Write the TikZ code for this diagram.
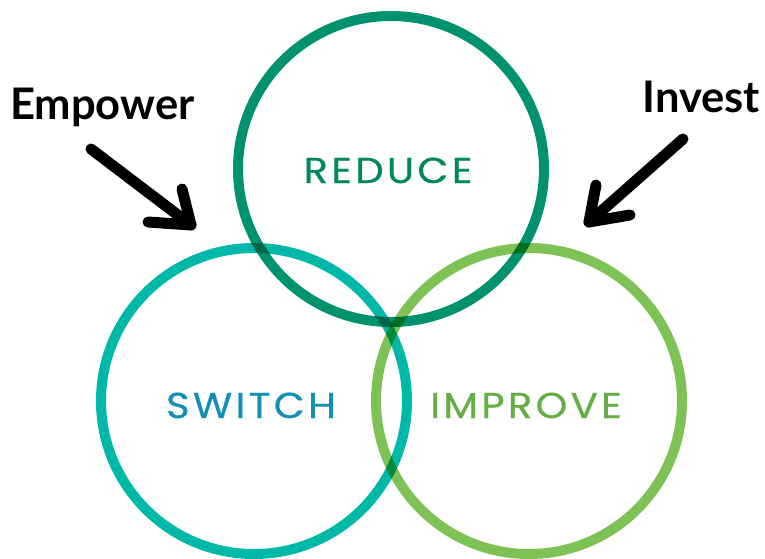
\documentclass[tikz,border=0pt]{standalone}
\usepackage{fontspec}
\setmainfont{Lato}
\newfontfamily\ringfont[LetterSpace=9,FakeStretch=1.12,FakeBold=0.5]{Poppins}
\definecolor{topc}{RGB}{0,145,110}
\definecolor{leftc}{RGB}{0,184,168}
\definecolor{rightc}{RGB}{126,194,85}
\definecolor{reducet}{RGB}{0,135,95}
\definecolor{switcht}{RGB}{17,143,180}
\definecolor{improvet}{RGB}{100,174,69}
\begin{document}
\begin{tikzpicture}[x=1pt,y=-1pt,
  ring/.style={circle,minimum size=306pt,inner sep=0pt,line width=10pt},
  ringlabel/.style={font=\ringfont\fontsize{36}{36}\selectfont,inner sep=0pt,anchor=base},
  sidelabel/.style={font=\bfseries\fontsize{43.5}{43.5}\selectfont,inner sep=0pt,anchor=base west},
  pointer/.style={line width=11pt,line cap=round,line join=round,black}]
\useasboundingbox (0,0) rectangle (765,559);

% the three overlapping rings, multiplied where they cross
\begin{scope}[blend group=multiply]
  \node[ring,draw=leftc] (switch) at (254,401) {};
  \node[ring,draw=rightc] (improve) at (529,401) {};
  \node[ring,draw=topc] (reduce) at (391,169) {};
\end{scope}

% ring captions
\node[ringlabel,text=reducet] (reducelbl) at (388,183) {REDUCE};
\node[ringlabel,text=switcht] (switchlbl) at (251,418) {SWITCH};
\node[ringlabel,text=improvet] (improvelbl) at (526,418) {IMPROVE};

% side captions
\node[sidelabel] (empower) at (10,120) {Empower};
\node[sidelabel,anchor=base east] (invest) at (760,113) {Invest};

% hand-drawn pointers
\coordinate (e0) at (91,149);
\coordinate (e1) at (191,225);
\coordinate (ea) at (182,189);
\coordinate (eb) at (148,222);
\draw[pointer] (e0) -- (e1);
\draw[pointer] (ea) -- (e1) -- (eb);

\coordinate (i0) at (683,139);
\coordinate (i1) at (589,222);
\coordinate (ia) at (596,185);
\coordinate (ib) at (630,215);
\draw[pointer] (i0) -- (i1);
\draw[pointer] (ia) -- (i1) -- (ib);
\end{tikzpicture}
\end{document}
